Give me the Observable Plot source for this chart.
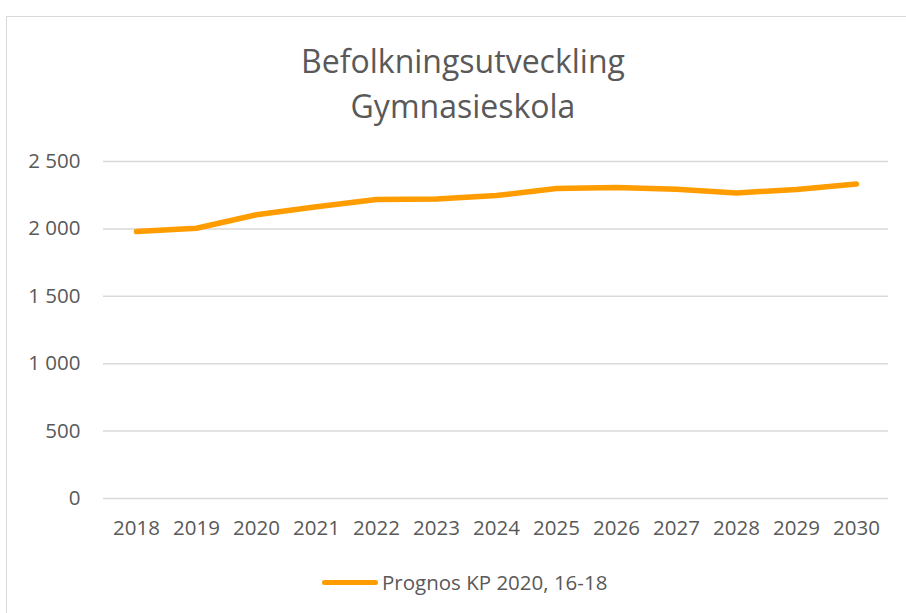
<!DOCTYPE html>
<html><head><meta charset="utf-8">
<script src="https://cdn.jsdelivr.net/npm/d3@7"></script>
<script src="https://cdn.jsdelivr.net/npm/@observablehq/plot@0.6"></script>
<style>
body{margin:0;background:#fff;font-family:"Open Sans",sans-serif;color:#595959;}
#frame{position:absolute;left:6px;top:16px;width:920px;height:620px;border:1.5px solid #d9d9d9;box-sizing:border-box;}
#title{position:absolute;left:0;width:926px;top:38px;text-align:center;font-size:32px;line-height:45px;color:#595959;}
#chart{position:absolute;left:0;top:140px;}
#legend{position:absolute;left:322px;top:568px;font-size:20.5px;line-height:28px;display:flex;align-items:center;color:#595959;}
#legend span.sw{display:inline-block;width:56px;height:5px;border-radius:3px;background:#ff9c00;margin-right:4px;}
</style></head>
<body>
<div id="frame"></div>
<div id="title">Befolkningsutveckling<br>Gymnasieskola</div>
<div id="chart"></div>
<div id="legend"><span class="sw"></span><span id="legtext"></span></div>
<script>
const years = ["2018","2019","2020","2021","2022","2023","2024","2025","2026","2027","2028","2029","2030"];
const values = [1980, 2005, 2105, 2165, 2218, 2222, 2247, 2300, 2308, 2294, 2267, 2292, 2333];
const yTicks = [0, 500, 1000, 1500, 2000, 2500];
const seriesName = "Prognos KP 2020, 16-18";

const data = years.map((y, i) => ({year: y, value: values[i]}));
const fmt = d3.formatLocale({thousands: "\u00a0", grouping: [3], decimal: ","}).format(",");
document.getElementById("legtext").textContent = seriesName;

const plot = Plot.plot({
  width: 906,
  height: 400,
  marginTop: 21,
  marginBottom: 42,
  marginLeft: 103,
  marginRight: 18,
  style: {fontFamily: "'Open Sans', sans-serif", fontSize: "20.5px", color: "#595959", background: "transparent"},
  x: {type: "point", domain: years, padding: 0.5, label: null},
  y: {domain: [0, 2500], ticks: yTicks, label: null},
  marks: [
    Plot.gridY(yTicks, {stroke: "#d9d9d9", strokeOpacity: 1, strokeWidth: 1.5}),
    Plot.axisY({ticks: yTicks, tickSize: 0, tickPadding: 23, tickFormat: fmt, label: null, fill: "#595959"}),
    Plot.axisX({tickSize: 0, tickPadding: 22, label: null, fill: "#595959"}),
    Plot.line(data, {x: "year", y: "value", stroke: "#ff9c00", strokeWidth: 5.5, strokeLinecap: "round", strokeLinejoin: "round"})
  ]
});
document.getElementById("chart").appendChild(plot);
</script>
</body></html>
